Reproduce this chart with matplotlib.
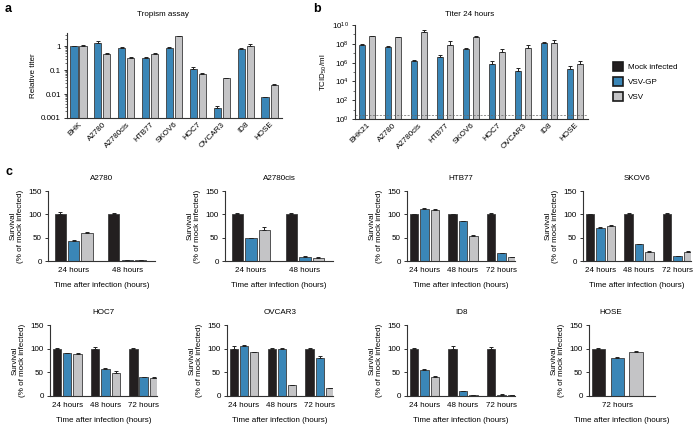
import numpy as np
import matplotlib
matplotlib.use("Agg")
import matplotlib.pyplot as plt
from matplotlib.patches import Patch
from matplotlib.ticker import FixedLocator, FuncFormatter, LogLocator, NullFormatter

plt.rcParams['font.family'] = ['Liberation Sans', 'DejaVu Sans']
plt.rcParams['mathtext.fontset'] = 'custom'
plt.rcParams['mathtext.rm'] = 'Liberation Sans'
plt.rcParams['mathtext.it'] = 'Liberation Sans:italic'
plt.rcParams['font.size'] = 5.8

# ---------------- data ----------------
series_names = ['Mock infected', 'VSV-GP', 'VSV']

tropism_lines = ['BHK', 'A2780', 'A2780cis', 'HTB77', 'SKOV6', 'HOC7', 'OVCAR3', 'ID8', 'HOSE']
tropism_gp = [1.0, 1.35, 0.82, 0.33, 0.85, 0.11, 0.0027, 0.72, 0.0073]
tropism_gp_err = [0.05, 0.25, 0.07, 0.02, 0.06, 0.03, 0.0006, 0.1, 0.0004]
tropism_vsv = [1.0, 0.45, 0.31, 0.47, 2.6, 0.066, 0.045, 1.05, 0.023]
tropism_vsv_err = [0.06, 0.04, 0.05, 0.02, 0.1, 0.007, 0.003, 0.12, 0.002]

titer_lines = ['BHK21', 'A2780', 'A2780cis', 'HTB77', 'SKOV6', 'HOC7', 'OVCAR3', 'ID8', 'HOSE']
titer_gp = [8e7, 5e7, 1.5e6, 4e6, 3e7, 8e5, 1.3e5, 1.3e8, 2e5]
titer_gp_err = [1e7, 1e7, 4e5, 2.8e6, 5e6, 7e5, 1.1e5, 1.5e7, 1.9e5]
titer_vsv = [7e8, 5e8, 1.6e9, 8e7, 5.6e8, 1.4e7, 3.5e7, 1.3e8, 7e5]
titer_vsv_err = [5e7, 3e7, 1.4e9, 1e8, 1e8, 1.3e7, 3.3e7, 1e8, 8e5]
detection_limit = 3

surv_titles = ['A2780', 'A2780cis', 'HTB77', 'SKOV6', 'HOC7', 'OVCAR3', 'ID8', 'HOSE']
surv_times = [['24 hours', '48 hours'], ['24 hours', '48 hours'],
              ['24 hours', '48 hours', '72 hours'], ['24 hours', '48 hours', '72 hours'],
              ['24 hours', '48 hours', '72 hours'], ['24 hours', '48 hours', '72 hours'],
              ['24 hours', '48 hours', '72 hours'], ['72 hours']]
surv_mock = [[100, 100], [100, 100], [100, 100, 100], [100, 100, 100],
             [100, 100, 100], [100, 100, 100], [100, 100, 100], [100]]
surv_mock_err = [[4, 2], [3, 3], [1, 1, 2], [1, 2, 2], [2, 3, 2], [5, 1, 1], [2, 6, 3], [1]]
surv_gp = [[43, 2], [49, 9], [112, 85, 17], [71, 36, 10], [90, 58, 40],
           [106, 99, 81], [55, 10, 3], [80]]
surv_gp_err = [[3, 1], [1, 1], [1, 1, 1], [1, 1, 1], [1, 1, 1], [2, 3, 4], [1, 1, 1], [3]]
surv_vsv = [[60, 2], [67, 7], [110, 54, 8], [75, 20, 20], [89, 49, 39],
            [93, 23, 16], [41, 2, 2], [94]]
surv_vsv_err = [[2, 1], [5, 1], [1, 1, 1], [2, 1, 1], [1, 3, 1], [1, 1, 1], [2, 1, 1], [2]]

# ---------------- style ----------------
C_MOCK = '#231f20'
C_GP = '#3a86b7'
C_VSV = '#c4c4c6'
EDGE = '#3c3c3c'
SPINE = '#333333'
W, H = 700, 428

fig = plt.figure(figsize=(7, 4.28), dpi=100)


def box(x0, y0, x1, y1):
    return [x0 / W, 1 - y1 / H, (x1 - x0) / W, (y1 - y0) / H]


def style(ax, xpad=2):
    for s in ['top', 'right']:
        ax.spines[s].set_visible(False)
    for s in ['left', 'bottom']:
        ax.spines[s].set_color(SPINE)
        ax.spines[s].set_linewidth(0.8)
    ax.tick_params(axis='y', length=2.5, width=0.7, color=SPINE, pad=2, labelsize=5.8)
    ax.tick_params(axis='x', length=0, pad=xpad, labelsize=5.8)


ekw = dict(ecolor='#222222', elinewidth=0.7, capsize=1.5, capthick=0.7)

# ---------------- panel a ----------------
axa = fig.add_axes(box(67, 33, 282, 118))
xa = np.arange(len(tropism_lines))
wa, da = 0.3, 0.19
axa.bar(xa - da, tropism_gp, wa, color=C_GP, edgecolor=EDGE, linewidth=0.6,
        yerr=[np.zeros(len(xa)), tropism_gp_err], error_kw=ekw)
axa.bar(xa + da, tropism_vsv, wa, color=C_VSV, edgecolor=EDGE, linewidth=0.6,
        yerr=[np.zeros(len(xa)), tropism_vsv_err], error_kw=ekw)
axa.set_yscale('log')
axa.set_ylim(0.001, 3.5)
axa.set_xlim(-0.48, 8.52)
axa.yaxis.set_major_locator(FixedLocator([0.001, 0.01, 0.1, 1]))
axa.yaxis.set_major_formatter(FuncFormatter(lambda v, p: {0.001: '0.001', 0.01: '0.01', 0.1: '0.1', 1: '1'}.get(round(v, 3), '')))
axa.yaxis.set_minor_locator(LogLocator(base=10, subs=np.arange(2, 10)))
axa.yaxis.set_minor_formatter(NullFormatter())
style(axa)
axa.tick_params(axis='y', which='minor', length=1.2, width=0.5, color=SPINE)
axa.set_xticks(xa)
axa.set_xticklabels(tropism_lines, rotation=45, ha='right', rotation_mode='anchor')
axa.set_ylabel('Relative titer', labelpad=3)
fig.text(163 / W, 1 - 15 / H, 'Tropism assay', ha='center', va='center', fontsize=5.8)

# ---------------- panel b ----------------
axb = fig.add_axes(box(355, 25, 588, 119))
xb = np.arange(len(titer_lines))
wb, db = 0.26, 0.19
axb.bar(xb - db, titer_gp, wb, color=C_GP, edgecolor=EDGE, linewidth=0.6,
        yerr=[np.zeros(len(xb)), titer_gp_err], error_kw=ekw)
axb.bar(xb + db, titer_vsv, wb, color=C_VSV, edgecolor=EDGE, linewidth=0.6,
        yerr=[np.zeros(len(xb)), titer_vsv_err], error_kw=ekw)
axb.set_yscale('log')
axb.set_ylim(1, 1e10)
axb.set_xlim(-0.46, 8.5)
axb.axhline(detection_limit, color='#666666', lw=0.5, ls=(0, (3, 2)))
axb.yaxis.set_major_locator(FixedLocator([1, 1e2, 1e4, 1e6, 1e8, 1e10]))
axb.yaxis.set_major_formatter(FuncFormatter(lambda v, p: r'$10^{%d}$' % round(np.log10(v))))
axb.yaxis.set_minor_locator(LogLocator(base=10, subs=[1.0], numticks=20))
axb.yaxis.set_minor_formatter(NullFormatter())
style(axb)
axb.tick_params(axis='y', which='minor', length=1.2, width=0.5, color=SPINE)
axb.set_xticks(xb)
axb.set_xticklabels(titer_lines, rotation=45, ha='right', rotation_mode='anchor')
axb.set_ylabel(r'TCID$_{50}$/ml', labelpad=2)
fig.text(470 / W, 1 - 15 / H, 'Titer 24 hours', ha='center', va='center', fontsize=5.8)

# legend
handles = [Patch(facecolor=c, edgecolor='#1a1a1a', linewidth=1.2) for c in (C_MOCK, C_GP, C_VSV)]
fig.legend(handles, series_names, loc='upper left', bbox_to_anchor=(609 / W, 1 - 58 / H),
           frameon=False, fontsize=5.8, handlelength=1.25, handleheight=1.25,
           labelspacing=0.75, handletextpad=0.6, borderpad=0)

# ---------------- panel c ----------------
c_boxes = [(48, 191, 155, 261), (225, 191, 333, 261), (407, 191, 515, 261), (583, 191, 691, 261),
           (50, 325, 157, 396), (227, 325, 333, 396), (407, 325, 515, 396), (589, 325, 655, 396)]
for i, title in enumerate(surv_titles):
    x0, y0, x1, y1 = c_boxes[i]
    ax = fig.add_axes(box(x0, y0, x1, y1))
    n = len(surv_times[i])
    xg = np.arange(n)
    if n == 3:
        d, w = 0.27, 0.22
        ax.set_xlim(-0.45, 2.35)
    elif n == 2:
        d, w = 0.25, 0.21
        ax.set_xlim(-0.48, 1.52)
    else:
        d, w = 0.28, 0.2
        ax.set_xlim(-0.42, 0.56)
    for off, vals, errs, col in ((-d, surv_mock[i], surv_mock_err[i], C_MOCK),
                                 (0, surv_gp[i], surv_gp_err[i], C_GP),
                                 (d, surv_vsv[i], surv_vsv_err[i], C_VSV)):
        ax.bar(xg + off, vals, w, color=col, edgecolor=EDGE, linewidth=0.6,
               yerr=[np.zeros(n), errs], error_kw=ekw)
    ax.set_ylim(0, 150)
    ax.set_yticks([0, 50, 100, 150])
    style(ax, xpad=4.5)
    ax.set_xticks(xg)
    ax.set_xticklabels(surv_times[i])
    ax.set_ylabel('Survival\n(% of mock infected)', labelpad=3, linespacing=1.1)
    ax.set_xlabel('Time after infection (hours)', labelpad=5.5)
    tx = (x0 + x1) / 2 if n > 1 else 611
    ty = 178 if y0 < 300 else 313
    fig.text(tx / W, 1 - ty / H, title, ha='center', va='center', fontsize=5.8)

# panel letters
fig.text(5 / W, 1 - 9 / H, 'a', fontsize=9, fontweight='bold', va='center')
fig.text(313 / W, 1 - 9 / H, 'b', fontsize=9, fontweight='bold', va='center')
fig.text(5 / W, 1 - 172 / H, 'c', fontsize=9, fontweight='bold', va='center')

fig.savefig('out.png', dpi=100)
